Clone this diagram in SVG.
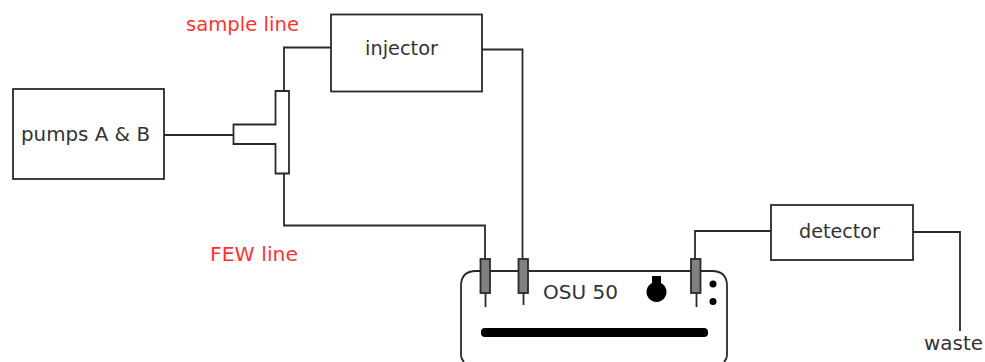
<svg xmlns="http://www.w3.org/2000/svg" width="985" height="362" viewBox="0 0 985 362">
<style>
.b{fill:#fff;stroke:#2a2a2a;stroke-width:1.8}
.c{fill:none;stroke:#2a2a2a;stroke-width:1.8}
.t{font-family:"DejaVu Sans",Verdana,sans-serif;font-size:19px;fill:#333}
.r{fill:#f33}
.p{fill:#808080;stroke:#2a2a2a;stroke-width:1.8}
</style>
<rect width="985" height="362" fill="#fff"/>
<g id="connectors">
<path class="c" d="M164 135H233"/>
<path class="c" d="M284 91V47.500H331"/>
<path class="c" d="M284 173V225.500H485V259"/>
<path class="c" d="M482 49.500H522.500V259"/>
<path class="c" d="M771 231H695V259"/>
<path class="c" d="M913 232H960V331"/>
</g>
<g id="pumps"><rect class="b" x="13" y="89" width="151" height="90"/><text class="t" x="21" y="141" textLength="129" lengthAdjust="spacingAndGlyphs">pumps A &amp; B</text></g>
<g id="tee"><path class="b" d="M275.500 91H289V173.500H275.500V144H233.500V124.500H275.500Z"/></g>
<g id="injector"><rect class="b" x="331" y="14.500" width="151" height="77"/><text class="t" x="365" y="55" textLength="73" lengthAdjust="spacingAndGlyphs">injector</text></g>
<g id="detector"><rect class="b" x="771" y="205" width="142" height="55"/><text class="t" x="799" y="238" textLength="81" lengthAdjust="spacingAndGlyphs">detector</text></g>
<g id="osu50">
<path class="b" d="M464 362Q461 359 461 355V286Q461 271 476 271H712Q727 271 727 286V355Q727 359 724 362"/>
<text class="t" x="543" y="299" textLength="75" lengthAdjust="spacingAndGlyphs">OSU 50</text>
<rect x="481" y="328" width="227" height="9" rx="4" fill="#000"/>
<path d="M652 276H661V283A10 10 0 1 1 652 283Z" fill="#000"/>
<circle cx="713" cy="284" r="3.500" fill="#000"/>
<circle cx="713" cy="301.500" r="3.500" fill="#000"/>
<rect class="p" x="480.500" y="259" width="9.500" height="34"/><path class="c" d="M485.500 293V307"/>
<rect class="p" x="518.500" y="259" width="9.500" height="34"/><path class="c" d="M523.500 293V305"/>
<rect class="p" x="691" y="259" width="9.500" height="34"/><path class="c" d="M696.500 293V307"/>
</g>
<g id="labels">
<text class="t r" x="186" y="31" textLength="113" lengthAdjust="spacingAndGlyphs">sample line</text>
<text class="t r" x="210" y="261" textLength="88" lengthAdjust="spacingAndGlyphs">FEW line</text>
<text class="t" x="924" y="350" textLength="59" lengthAdjust="spacingAndGlyphs">waste</text>
</g>
</svg>
